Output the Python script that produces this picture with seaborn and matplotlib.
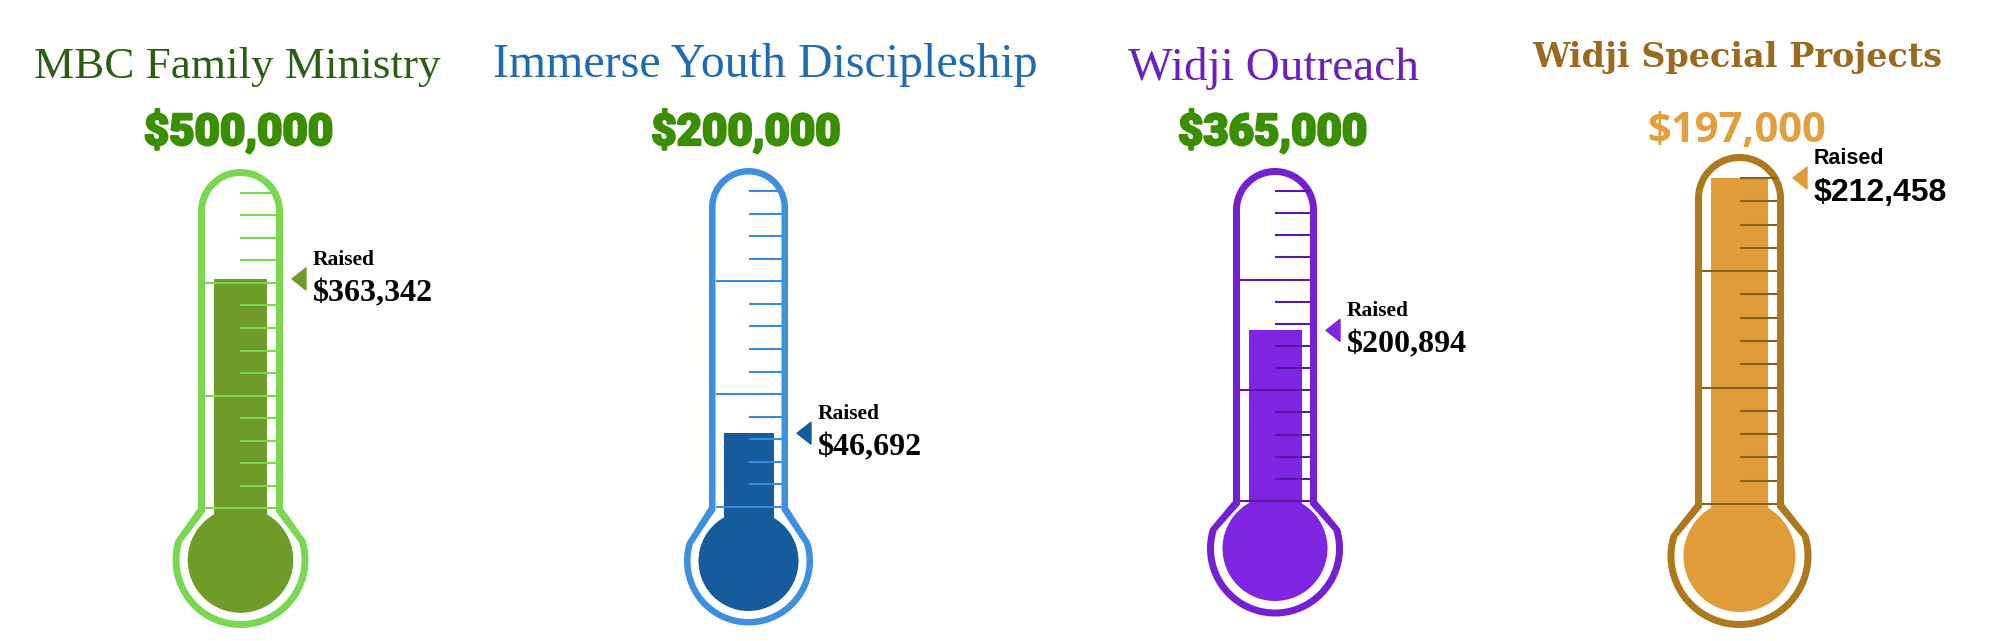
"""
Fundraising thermometers for four ministry campaigns.
Goal on top, raised amount as the column fill (capped at the goal).
"""

import numpy as np
import matplotlib
matplotlib.use("Agg")
import matplotlib.pyplot as plt
import matplotlib.patheffects as pe
from matplotlib.patches import Polygon, Ellipse, Rectangle
import pandas as pd
import seaborn as sns

# ── Data ────────────────────────────────────────────────────────────────────
CAMPAIGNS = ["MBC Family Ministry", "Immerse Youth Discipleship",
             "Widji Outreach", "Widji Special Projects"]
GOALS     = [500000, 200000, 365000, 197000]
RAISED    = [363342, 46692, 200894, 212458]
N_STEPS   = 14      # tick intervals on each scale
MAJOR     = 5       # every 5th tick is a long one

# ── Layout (pixels on the 2000 x 641 canvas) ────────────────────────────────
W_PX, H_PX  = 2000, 641
CENTER_X    = [240.5, 748.5, 1275, 1739.5]
TUBE_W      = [85, 79, 84, 89]
TUBE_TOP    = [169, 168, 168, 154]
TICK_BOTTOM = [508.3, 507, 501, 504]
TICK_TOP    = [192.7, 191, 191, 178]
BULB_Y      = [560, 561, 548.5, 556]
BULB_R      = [68, 64.5, 68, 72]
FILL_R      = [52.8, 50, 52.5, 56]
COL_W       = [53, 50, 53, 57]
WALL        = [7, 6.5, 7, 7]

TITLE_X     = [237.5, 765, 1273.5, 1737.5]
TITLE_Y     = [78.4, 76.8, 79.6, 66.7]
GOAL_X      = [238.5, 746, 1272.5, 1736.5]
GOAL_Y      = [145, 145, 145, 142]

# ── Styles ──────────────────────────────────────────────────────────────────
OUTLINE  = ["#79D84F", "#3D90DF", "#7420D2", "#AE781C"]
FILL     = ["#6E9C27", "#165B9B", "#8025E4", "#DF9C38"]
TICK_C   = ["#79D84F", "#3A8BDA", "#5B17A5", "#8A5E1E"]
TITLE_C  = ["#2A5E12", "#1E6AB5", "#6A1FC0", "#9A6A1E"]
GOAL_C   = ["#3A8F00", "#3A8F00", "#3A8F00", "#E19F3D"]
TITLE_FONT = [dict(family="Liberation Serif", size=32.5),
              dict(family="Liberation Serif", size=34.5),
              dict(family="Liberation Serif", size=34),
              dict(family="DejaVu Serif", size=24, weight="bold")]
GOAL_FONT  = [dict(family="Roboto", size=31.5, weight="black")] * 3 + \
             [dict(family="Open Sans", size=30, weight="bold")]
GOAL_STROKE = [1.6, 1.6, 1.6, 0]
RAISED_FONT = ["Liberation Serif"] * 3 + ["Liberation Sans"]

sns.set_theme(style="white")


def outline_points(w_half, top_c, yj, bcy, r, phi0=17):
    """Rounded tube + bulb silhouette, x relative to centre, y in px (down)."""
    th = np.linspace(np.pi, 0, 60)
    top = np.c_[w_half * np.cos(th), top_c - w_half * np.sin(th)]
    phi = np.radians(np.linspace(phi0, -180 - phi0, 140))
    arc = np.c_[r * np.cos(phi), bcy - r * np.sin(phi)]
    return np.vstack([top, [[w_half, yj]], arc, [[-w_half, yj]]])


fig = plt.figure(figsize=(W_PX / 100, H_PX / 100), dpi=100)
fig.patch.set_facecolor("white")

for k in range(len(CAMPAIGNS)):
    cx, goal, raised = CENTER_X[k], GOALS[k], RAISED[k]
    b, tt = TICK_BOTTOM[k], TICK_TOP[k]
    per_px = goal / (b - tt)          # dollars per pixel on this scale

    def yd(py):
        return (b - np.asarray(py, dtype=float)) * per_px

    left, right = -150, 260
    ax = fig.add_axes([(cx + left) / W_PX, 0, (right - left) / W_PX, 1])
    ax.patch.set_alpha(0)

    w = TUBE_W[k] / 2
    t = WALL[k]
    top_c = TUBE_TOP[k] + w

    # glass outline: coloured silhouette, white inside
    outer = outline_points(w, top_c, b, BULB_Y[k], BULB_R[k])
    inner = outline_points(w - t, top_c, b + t * 0.5, BULB_Y[k], BULB_R[k] - t)
    for pts, col, z in ((outer, OUTLINE[k], 1), (inner, "white", 2)):
        xy = np.c_[pts[:, 0], yd(pts[:, 1])]
        ax.add_patch(Polygon(xy, closed=True, facecolor=col,
                             edgecolor="none", zorder=z))

    # bulb and stem
    ax.add_patch(Ellipse((0, yd(BULB_Y[k])), 2 * FILL_R[k],
                         2 * FILL_R[k] * per_px, facecolor=FILL[k],
                         edgecolor="none", zorder=3))
    ax.add_patch(Rectangle((-COL_W[k] / 2, yd(BULB_Y[k])), COL_W[k],
                           -yd(BULB_Y[k]), facecolor=FILL[k],
                           edgecolor="none", zorder=3))

    # raised amount column (capped at the goal)
    level = min(raised, goal)
    df = pd.DataFrame({"pos": [0.0], "raised": [level]})
    sns.barplot(data=df, x="pos", y="raised", native_scale=True,
                width=COL_W[k], color=FILL[k], saturation=1,
                edgecolor="none", linewidth=0, errorbar=None,
                ax=ax, zorder=3)

    # scale ticks
    for i in range(N_STEPS + 1):
        v = goal * i / N_STEPS
        x0 = -(w - t) if i % MAJOR == 0 else 0.0
        ax.hlines(v, x0, w - t, color=TICK_C[k], lw=1.5, zorder=4)

    # pointer and label
    tip = w + 9
    h = 11 * per_px
    ax.add_patch(Polygon([[tip, level], [tip + 14, level + h],
                          [tip + 14, level - h]], closed=True,
                         facecolor=FILL[k], edgecolor=FILL[k],
                         joinstyle="round", lw=1, zorder=4))
    ax.text(w + 30, level + 14 * per_px, "Raised", ha="left", va="baseline",
            fontsize=15.5, fontweight="bold", family=RAISED_FONT[k],
            color="black")
    ax.text(w + 30, level - 22.5 * per_px, f"${raised:,}", ha="left",
            va="baseline", fontsize=23, fontweight="bold",
            family=RAISED_FONT[k], color="black")

    ax.set_xlim(left, right)
    ax.set_ylim(yd(H_PX), yd(0))
    ax.axis("off")

    # headings
    fig.text(TITLE_X[k] / W_PX, 1 - TITLE_Y[k] / H_PX, CAMPAIGNS[k],
             ha="center", va="baseline", color=TITLE_C[k], **TITLE_FONT[k])
    g = fig.text(GOAL_X[k] / W_PX, 1 - GOAL_Y[k] / H_PX, f"${goal:,}",
                 ha="center", va="baseline", color=GOAL_C[k], **GOAL_FONT[k])
    if GOAL_STROKE[k]:
        g.set_path_effects([pe.withStroke(linewidth=GOAL_STROKE[k],
                                          foreground=GOAL_C[k])])

fig.savefig("out.png", dpi=100, facecolor="white")
plt.close(fig)
